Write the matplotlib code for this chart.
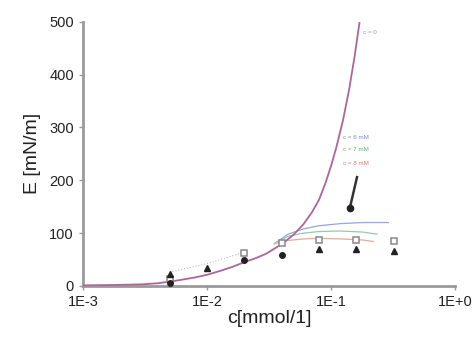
import numpy as np
import matplotlib
matplotlib.use("Agg")
import matplotlib.pyplot as plt

plt.rcParams['font.family'] = ['Liberation Sans', 'DejaVu Sans']

# model curve, c = 0
c0_x = [0.001, 0.002, 0.003, 0.004, 0.005, 0.006, 0.008, 0.01, 0.013,
        0.016, 0.02, 0.025, 0.03, 0.04, 0.05, 0.06, 0.07, 0.08, 0.09,
        0.1, 0.11, 0.125, 0.14, 0.155, 0.171, 0.18]
c0_y = [1, 2, 3, 5, 8, 11, 16, 21, 29, 36, 45, 53, 61, 79, 97, 117,
        139, 163, 194, 227, 261, 314, 372, 435, 504, 545]

# model curves with salt
c6_x = [0.035, 0.045, 0.06, 0.08, 0.12, 0.18, 0.29]
c6_y = [80, 98, 108, 114, 118, 120, 120]
c7_x = [0.035, 0.045, 0.06, 0.08, 0.12, 0.18, 0.235]
c7_y = [80, 94, 100, 103, 104, 102, 98]
c8_x = [0.035, 0.045, 0.06, 0.08, 0.12, 0.18, 0.22]
c8_y = [80, 86, 89, 90, 89, 87, 84]

# measured points
sq_x = [0.005, 0.02, 0.04, 0.08, 0.16, 0.32]
sq_y = [14, 62, 81, 87, 87, 85]
tri_x = [0.005, 0.01, 0.08, 0.16, 0.32]
tri_y = [22, 34, 70, 70, 66]
circ_x = [0.005, 0.02, 0.04]
circ_y = [5, 49, 59]

dot_x = [0.005, 0.01, 0.02]
dot_y = [26, 42, 64]

arrow_x = [0.162, 0.142]
arrow_y = [206, 148]

fig = plt.figure(figsize=(4.74, 3.42), dpi=100)
ax = fig.add_axes([0.175, 0.164, 0.785, 0.772])

ax.plot(dot_x, dot_y, color='#bbbbbb', lw=0.8, ls=':')
ax.plot(c0_x, c0_y, color='#b0649b', lw=1.3, zorder=3)
ax.plot(c6_x, c6_y, color='#97a3da', lw=0.9)
ax.plot(c7_x, c7_y, color='#94cba6', lw=0.9)
ax.plot(c8_x, c8_y, color='#eaa898', lw=0.9)

ax.plot(sq_x, sq_y, 's', ms=4.5, mfc='white', mec='#888888', mew=1.1, ls='none', zorder=4)
ax.plot(tri_x, tri_y, '^', ms=4.5, color='#222222', ls='none', zorder=5)
ax.plot(circ_x, circ_y, 'o', ms=4, color='#222222', ls='none', zorder=5)

ax.plot(arrow_x, arrow_y, color='#333333', lw=1.8)
ax.plot(arrow_x[-1], arrow_y[-1], 'o', ms=4.5, color='#222222')

ax.text(0.181, 479, 'c = 0', fontsize=4.5, color='#999999', va='center')
ax.text(0.125, 282, 'c = 6 mM', fontsize=4.5, color='#7d8bd0', va='center')
ax.text(0.125, 258, 'c = 7 mM', fontsize=4.5, color='#5fb07f', va='center')
ax.text(0.125, 231, 'c = 8 mM', fontsize=4.5, color='#e07a66', va='center')

ax.set_xscale('log')
ax.set_xlim(0.001, 1.0)
ax.set_ylim(0, 500)
ax.set_xticks([0.001, 0.01, 0.1, 1.0])
ax.set_xticklabels(['1E-3', '1E-2', '1E-1', '1E+0'])
ax.xaxis.set_minor_locator(matplotlib.ticker.NullLocator())
ax.set_yticks([0, 100, 200, 300, 400, 500])

for s in ['top', 'right']:
    ax.spines[s].set_visible(False)
for s in ['left', 'bottom']:
    ax.spines[s].set_color('#9a9a9a')
    ax.spines[s].set_linewidth(2)
ax.tick_params(colors='#9a9a9a', labelcolor='#222222', labelsize=10.5, length=3, width=1)

ax.set_xlabel('c[mmol/1]', fontsize=14, color='#222222', labelpad=1)
ax.set_ylabel('E [mN/m]', fontsize=14, color='#222222', labelpad=6)

fig.savefig('out.png', dpi=100)
